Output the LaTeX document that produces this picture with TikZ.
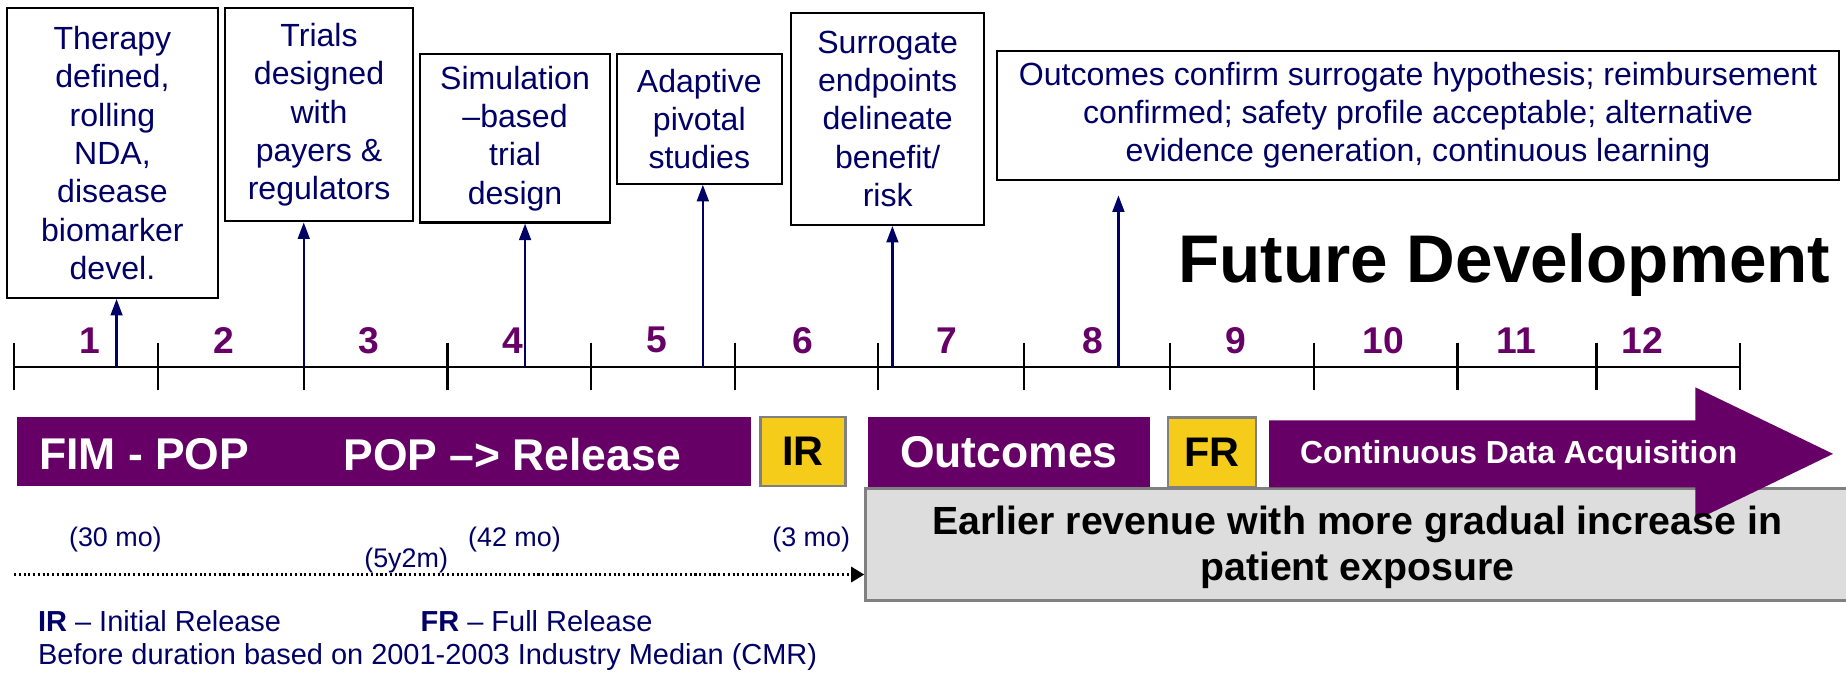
\documentclass[tikz,border=0pt]{standalone}
\usepackage{fontspec}
\setmainfont{Liberation Sans}
\usetikzlibrary{arrows.meta}
\definecolor{navy}{HTML}{000066}
\definecolor{plum}{HTML}{660066}
\definecolor{gold}{HTML}{F5CC1A}
\definecolor{lightgrey}{HTML}{DDDDDD}
\definecolor{midgrey}{HTML}{808080}

\begin{document}
\begin{tikzpicture}[
	x=0.02cm, y=-0.02cm,
	>={Triangle[length=0.28cm,width=0.2cm]},
	milestone/.style={draw=black, line width=1.1pt, align=center, text=navy, inner sep=0pt,
		font=\fontsize{15.5}{18.5}\selectfont},
	phase/.style={fill=plum, inner sep=0pt, minimum height=1.18cm},
	phasetext/.style={text=white, font=\bfseries\fontsize{21.5}{26}\selectfont},
	release/.style={fill=gold, draw=midgrey, line width=1.2pt, inner sep=0pt, minimum height=1.18cm,
		font=\bfseries\fontsize{20}{24}\selectfont},
	pointer/.style={->, navy, line width=1.1pt},
	duration/.style={text=navy, font=\fontsize{13}{16}\selectfont},
	legend/.style={text=navy, anchor=west, inner sep=0pt, font=\fontsize{14}{17}\selectfont}
	]
	\useasboundingbox (0,0) rectangle (1568,572);

	% milestone boxes
	\node[milestone, minimum width=3.58cm, minimum height=4.92cm] (therapy) at (95.5,130)
		{Therapy\\defined,\\rolling\\NDA,\\disease\\biomarker\\devel.};
	\node[milestone, minimum width=3.2cm, minimum height=3.62cm] (trials) at (271,97.5)
		{Trials\\designed\\with\\payers \&\\regulators};
	\node[milestone, minimum width=3.22cm, minimum height=2.86cm] (simulation) at (437.5,117.5)
		{Simulation\\–based\\trial\\design};
	\node[milestone, minimum width=2.8cm, minimum height=2.2cm] (adaptive) at (594,101)
		{Adaptive\\pivotal\\studies};
	\node[milestone, minimum width=3.28cm, minimum height=3.6cm] (surrogate) at (754,101)
		{Surrogate\\endpoints\\delineate\\benefit/\\risk};
	\node[milestone, minimum width=14.3cm, minimum height=2.2cm] (outcomebox) at (1204.5,98)
		{Outcomes confirm surrogate hypothesis; reimbursement\\confirmed; safety profile acceptable; alternative\\evidence generation, continuous learning};

	\node[anchor=base east, inner sep=0pt, font=\bfseries\fontsize{32.6}{38}\selectfont] (future) at (1555,240)
		{Future Development};

	% time axis with periods
	\coordinate (t0) at (12,312);
	\coordinate (t12) at (1478,312);
	\draw[line width=1.1pt] (t0) -- (t12);
	\foreach \x in {12,134,258,380,502,624,746,870,994,1116,1238,1356,1478}
		\draw[line width=1.1pt] (\x,291) -- (\x,331);
	\foreach \x/\n in {76/1,190/2,313/3,436/4,558/5,682/6,804/7,928/8,1050/9,1175/10,1288/11,1395/12}
		\node[text=plum, font=\bfseries\fontsize{18}{22}\selectfont] (n\n) at (\x,289) {\n};

	% pointers from the axis up to the boxes
	\foreach \x/\b [count=\i] in {99/therapy,258/trials,446/simulation,597/adaptive,758/surrogate}{
		\coordinate (p\i) at (\x,312);
		\draw[pointer] (p\i) -- (p\i |- \b.south);
	}
	\coordinate (p6) at (950,312);
	\draw[pointer, shorten >=0.24cm] (p6) -- (p6 |- outcomebox.south);

	% phases
	\node[phase, minimum width=12.48cm] (before) at (326,383.5) {};
	\node[phasetext] (fim) at (122.5,386) {FIM - POP};
	\node[phasetext] (pop) at (435,386) {POP –> Release};
	\node[release, minimum width=1.44cm] (ir) at (682,383.5) {IR};
	\node[phase, phasetext, minimum width=4.8cm] (outcomes) at (857,384) {Outcomes};
	\node[release, minimum width=1.5cm] (fr) at (1029.5,384) {FR};

	% revenue box, arrow on top, then its text
	\node[fill=lightgrey, draw=midgrey, line width=1.2pt, inner sep=0pt,
		minimum width=16.8cm, minimum height=1.9cm] (revenue) at (1155,462.5) {};
	\fill[plum] (1078,357) -- (1440,357) -- (1440,329) -- (1557,385.5)
		-- (1440,442) -- (1440,414) -- (1078,414) -- cycle;
	\node[text=white, font=\bfseries\fontsize{15.4}{18}\selectfont] (cda) at (1290,387)
		{Continuous Data Acquisition};
	\node[align=center, font=\bfseries\fontsize{19}{22}\selectfont] (revtext) at (1153,465)
		{Earlier revenue with more gradual increase in\\patient exposure};

	% durations
	\node[duration] (d30) at (98,458) {(30 mo)};
	\node[duration] (d5y) at (345,476) {(5y2m)};
	\node[duration] (d42) at (437,458) {(42 mo)};
	\node[duration] (d3) at (689,458) {(3 mo)};
	\coordinate (dstart) at (12,488);
	\draw[dash pattern=on 1pt off 1.3pt, line width=1pt, -{Triangle[length=0.22cm,width=0.26cm]}]
		(dstart) -- (revenue.west |- dstart);

	% legend
	\node[legend] (irnote) at (32,528) {\textbf{IR} – Initial Release};
	\node[legend] (frnote) at (357,528) {\textbf{FR} – Full Release};
	\node[legend] (basis) at (32,558) {Before duration based on 2001-2003 Industry Median (CMR)};
\end{tikzpicture}
\end{document}
